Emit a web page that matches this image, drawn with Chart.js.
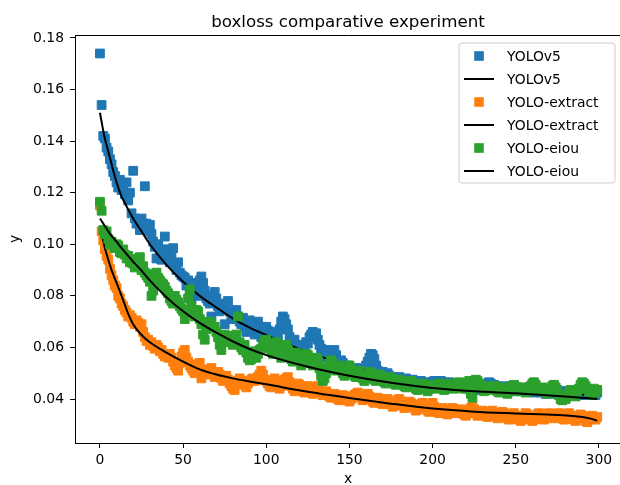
<!DOCTYPE html>
<html>
<head>
<meta charset="utf-8">
<script src="https://cdn.jsdelivr.net/npm/chart.js@4.4.1/dist/chart.umd.min.js"></script>
<style>
body{margin:0;background:#fff;}
#wrap{width:620px;height:485px;}
</style>
</head>
<body>
<div id="wrap"><canvas id="lossChart" width="620" height="485"></canvas></div>
<script>
// box loss per epoch
const seriesNames = ["YOLOv5", "YOLO-extract", "YOLO-eiou"];

const yolov5Box = [
0.1740,0.1540,0.1420,0.1410,0.1375,0.1360,0.1330,0.1310,0.1280,0.1265,
0.1240,0.1220,0.1250,0.1210,0.1225,0.1195,0.1240,0.1170,0.1200,0.1120,
0.1285,0.1100,0.1080,0.1090,0.1055,0.1100,0.1080,0.1225,0.1080,0.1050,
0.1075,0.1040,0.1010,0.0990,0.0945,0.1000,0.0970,0.0940,0.0980,0.1030,
0.0980,0.0955,0.0930,0.0960,0.0985,0.0920,0.0900,0.0930,0.0890,0.0880,
0.0875,0.0870,0.0840,0.0860,0.0820,0.0785,0.0830,0.0850,0.0815,0.0800,
0.0860,0.0875,0.0850,0.0820,0.0790,0.0780,0.0770,0.0720,0.0800,0.0815,
0.0790,0.0760,0.0740,0.0770,0.0750,0.0690,0.0760,0.0780,0.0740,0.0725,
0.0710,0.0730,0.0745,0.0720,0.0700,0.0690,0.0715,0.0680,0.0660,0.0700,
0.0705,0.0690,0.0670,0.0650,0.0665,0.0700,0.0680,0.0640,0.0660,0.0650,
0.0680,0.0665,0.0655,0.0640,0.0660,0.0650,0.0630,0.0645,0.0670,0.0700,
0.0720,0.0710,0.0690,0.0670,0.0640,0.0620,0.0610,0.0630,0.0600,0.0590,
0.0610,0.0595,0.0580,0.0600,0.0620,0.0615,0.0640,0.0650,0.0660,0.0640,
0.0655,0.0630,0.0610,0.0595,0.0580,0.0560,0.0590,0.0570,0.0550,0.0560,
0.0575,0.0590,0.0570,0.0545,0.0535,0.0550,0.0540,0.0520,0.0510,0.0530,
0.0525,0.0515,0.0500,0.0520,0.0510,0.0505,0.0495,0.0510,0.0520,0.0500,
0.0530,0.0545,0.0560,0.0575,0.0570,0.0555,0.0530,0.0510,0.0500,0.0490,
0.0505,0.0495,0.0485,0.0500,0.0490,0.0480,0.0485,0.0475,0.0480,0.0470,
0.0485,0.0475,0.0465,0.0470,0.0480,0.0465,0.0460,0.0470,0.0475,0.0460,
0.0465,0.0455,0.0460,0.0470,0.0455,0.0460,0.0450,0.0465,0.0460,0.0450,
0.0465,0.0470,0.0460,0.0455,0.0465,0.0470,0.0460,0.0455,0.0450,0.0460,
0.0465,0.0455,0.0450,0.0460,0.0455,0.0445,0.0450,0.0460,0.0455,0.0445,
0.0450,0.0440,0.0450,0.0455,0.0445,0.0440,0.0450,0.0445,0.0435,0.0440,
0.0450,0.0455,0.0445,0.0460,0.0465,0.0460,0.0450,0.0455,0.0445,0.0440,
0.0450,0.0445,0.0440,0.0435,0.0445,0.0440,0.0450,0.0440,0.0435,0.0430,
0.0440,0.0445,0.0435,0.0430,0.0440,0.0435,0.0430,0.0440,0.0445,0.0435,
0.0430,0.0425,0.0435,0.0440,0.0430,0.0425,0.0435,0.0430,0.0420,0.0425,
0.0435,0.0430,0.0425,0.0420,0.0430,0.0435,0.0425,0.0420,0.0430,0.0425,
0.0420,0.0430,0.0425,0.0415,0.0420,0.0430,0.0425,0.0420,0.0415,0.0425,
0.0420,0.0415,0.0425,0.0430,0.0420,0.0415,0.0425,0.0420,0.0415,0.0425
];

const extractBox = [
0.1150,0.1050,0.1015,0.0980,0.0955,0.0940,0.0905,0.0880,0.0860,0.0840,
0.0830,0.0800,0.0790,0.0770,0.0760,0.0745,0.0735,0.0720,0.0725,0.0715,
0.0700,0.0690,0.0705,0.0695,0.0680,0.0690,0.0660,0.0640,0.0625,0.0630,
0.0610,0.0620,0.0605,0.0595,0.0610,0.0600,0.0585,0.0590,0.0575,0.0565,
0.0570,0.0560,0.0575,0.0560,0.0545,0.0530,0.0520,0.0510,0.0540,0.0565,
0.0580,0.0590,0.0560,0.0545,0.0530,0.0520,0.0510,0.0500,0.0520,0.0535,
0.0540,0.0480,0.0500,0.0515,0.0505,0.0495,0.0510,0.0520,0.0500,0.0485,
0.0490,0.0505,0.0495,0.0480,0.0470,0.0485,0.0490,0.0475,0.0460,0.0450,
0.0440,0.0435,0.0455,0.0470,0.0480,0.0465,0.0470,0.0455,0.0445,0.0460,
0.0470,0.0475,0.0480,0.0470,0.0475,0.0485,0.0495,0.0510,0.0495,0.0475,
0.0470,0.0460,0.0450,0.0445,0.0465,0.0480,0.0470,0.0455,0.0440,0.0450,
0.0465,0.0475,0.0480,0.0485,0.0465,0.0450,0.0440,0.0430,0.0445,0.0460,
0.0455,0.0440,0.0430,0.0425,0.0440,0.0450,0.0445,0.0430,0.0420,0.0435,
0.0445,0.0450,0.0435,0.0425,0.0415,0.0420,0.0430,0.0420,0.0410,0.0405,
0.0415,0.0420,0.0410,0.0400,0.0395,0.0405,0.0415,0.0410,0.0400,0.0395,
0.0390,0.0400,0.0410,0.0415,0.0420,0.0425,0.0415,0.0405,0.0395,0.0400,
0.0410,0.0420,0.0410,0.0400,0.0390,0.0385,0.0395,0.0405,0.0400,0.0390,
0.0380,0.0385,0.0395,0.0400,0.0390,0.0380,0.0370,0.0375,0.0385,0.0395,
0.0400,0.0390,0.0375,0.0365,0.0370,0.0380,0.0390,0.0385,0.0375,0.0365,
0.0355,0.0360,0.0370,0.0380,0.0385,0.0375,0.0365,0.0355,0.0350,0.0360,
0.0385,0.0370,0.0360,0.0350,0.0345,0.0355,0.0365,0.0360,0.0350,0.0340,
0.0345,0.0355,0.0365,0.0360,0.0350,0.0345,0.0355,0.0360,0.0350,0.0340,
0.0335,0.0345,0.0355,0.0365,0.0370,0.0360,0.0345,0.0335,0.0340,0.0350,
0.0355,0.0345,0.0335,0.0330,0.0340,0.0350,0.0355,0.0345,0.0335,0.0325,
0.0330,0.0340,0.0350,0.0345,0.0335,0.0325,0.0320,0.0330,0.0340,0.0345,
0.0335,0.0325,0.0320,0.0315,0.0325,0.0335,0.0345,0.0340,0.0330,0.0320,
0.0315,0.0320,0.0330,0.0340,0.0345,0.0335,0.0325,0.0320,0.0330,0.0340,
0.0345,0.0340,0.0330,0.0325,0.0330,0.0340,0.0345,0.0335,0.0325,0.0320,
0.0330,0.0340,0.0345,0.0335,0.0325,0.0320,0.0315,0.0325,0.0335,0.0340,
0.0335,0.0325,0.0315,0.0310,0.0320,0.0330,0.0335,0.0325,0.0320,0.0330
];

const eiouBox = [
0.1165,0.1130,0.1055,0.1040,0.1050,0.1020,0.1000,0.1010,0.0995,0.0985,
0.1000,0.0995,0.0970,0.0965,0.0980,0.0960,0.0945,0.0955,0.0930,0.0940,
0.0925,0.0910,0.0935,0.0945,0.0950,0.0900,0.0915,0.0890,0.0880,0.0870,
0.0855,0.0800,0.0820,0.0885,0.0890,0.0870,0.0860,0.0850,0.0845,0.0835,
0.0820,0.0810,0.0790,0.0780,0.0770,0.0800,0.0785,0.0775,0.0760,0.0750,
0.0740,0.0710,0.0745,0.0790,0.0825,0.0760,0.0735,0.0720,0.0745,0.0740,
0.0710,0.0690,0.0650,0.0630,0.0670,0.0700,0.0690,0.0695,0.0680,0.0680,
0.0660,0.0640,0.0610,0.0590,0.0620,0.0650,0.0640,0.0630,0.0645,0.0620,
0.0610,0.0630,0.0650,0.0720,0.0620,0.0600,0.0590,0.0610,0.0580,0.0560,
0.0550,0.0555,0.0570,0.0585,0.0560,0.0575,0.0590,0.0595,0.0610,0.0625,
0.0630,0.0615,0.0600,0.0590,0.0575,0.0610,0.0620,0.0605,0.0580,0.0560,
0.0575,0.0600,0.0610,0.0590,0.0570,0.0555,0.0545,0.0560,0.0580,0.0565,
0.0550,0.0530,0.0540,0.0560,0.0575,0.0570,0.0555,0.0540,0.0530,0.0545,
0.0560,0.0550,0.0520,0.0490,0.0470,0.0480,0.0500,0.0520,0.0535,0.0550,
0.0540,0.0525,0.0510,0.0520,0.0530,0.0515,0.0500,0.0490,0.0505,0.0520,
0.0530,0.0515,0.0500,0.0490,0.0485,0.0500,0.0510,0.0495,0.0480,0.0470,
0.0480,0.0495,0.0505,0.0500,0.0485,0.0475,0.0470,0.0480,0.0495,0.0490,
0.0480,0.0465,0.0460,0.0470,0.0485,0.0480,0.0470,0.0460,0.0455,0.0465,
0.0475,0.0470,0.0460,0.0450,0.0445,0.0455,0.0465,0.0470,0.0460,0.0450,
0.0440,0.0435,0.0445,0.0455,0.0460,0.0450,0.0440,0.0430,0.0440,0.0450,
0.0455,0.0445,0.0440,0.0450,0.0460,0.0455,0.0445,0.0435,0.0440,0.0450,
0.0460,0.0455,0.0445,0.0440,0.0450,0.0460,0.0465,0.0455,0.0445,0.0440,
0.0450,0.0460,0.0470,0.0420,0.0405,0.0455,0.0475,0.0470,0.0460,0.0450,
0.0440,0.0430,0.0440,0.0450,0.0445,0.0435,0.0440,0.0450,0.0445,0.0430,
0.0425,0.0435,0.0445,0.0440,0.0430,0.0420,0.0430,0.0440,0.0450,0.0455,
0.0445,0.0435,0.0430,0.0440,0.0445,0.0435,0.0425,0.0430,0.0440,0.0450,
0.0460,0.0465,0.0455,0.0440,0.0430,0.0435,0.0445,0.0440,0.0430,0.0420,
0.0430,0.0440,0.0450,0.0455,0.0445,0.0430,0.0415,0.0400,0.0395,0.0405,
0.0400,0.0410,0.0425,0.0435,0.0430,0.0420,0.0410,0.0425,0.0440,0.0455,
0.0465,0.0460,0.0450,0.0440,0.0430,0.0420,0.0415,0.0440,0.0425,0.0435
];

// fitted curves (black lines), sampled at these epochs
const fitX = [0,1,2,3,4,5,7,10,13,15,17,20,24,30,40,50,60,70,80,90,100,125,150,175,200,225,250,275,290,295,299];
const yolov5Fit = [0.1510,0.1475,0.1440,0.1408,0.1385,0.1360,0.1310,0.1240,0.1185,0.1160,0.1135,0.1100,0.1060,0.1000,0.0920,0.0855,0.0800,0.0755,0.0712,0.0677,0.0648,0.0582,0.0530,0.0490,0.0460,0.0442,0.0430,0.0422,0.0417,0.0414,0.0412];
const extractFit = [0.1070,0.1040,0.1012,0.0985,0.0962,0.0940,0.0900,0.0850,0.0800,0.0765,0.0730,0.0690,0.0655,0.0620,0.0580,0.0545,0.0515,0.0495,0.0480,0.0468,0.0457,0.0428,0.0404,0.0382,0.0363,0.0351,0.0344,0.0338,0.0330,0.0324,0.0316];
const eiouFit = [0.1100,0.1090,0.1080,0.1070,0.1060,0.1050,0.1033,0.1010,0.0985,0.0970,0.0955,0.0932,0.0905,0.0860,0.0795,0.0740,0.0695,0.0657,0.0623,0.0594,0.0570,0.0525,0.0490,0.0463,0.0443,0.0430,0.0422,0.0412,0.0405,0.0402,0.0400];

const xTicks = [0,50,100,150,200,250,300];
const yTicks = [0.04,0.06,0.08,0.10,0.12,0.14,0.16,0.18];

const colors = ["#1f77b4", "#ff7f0e", "#2ca02c"];
const FONT = "DejaVu Sans";

function pts(vals){ return vals.map((v,i) => ({x:i, y:v})); }
function fitPts(vals){ return vals.map((v,i) => ({x:fitX[i], y:v})); }

function scatterSet(label, vals, color, order){
  return {label:label, data:pts(vals), backgroundColor:color, borderColor:color,
    pointStyle:'rect', pointRadius:6.2, borderWidth:1, showLine:false, order:order};
}
function fitSet(label, vals, order){
  return {label:label, data:fitPts(vals), borderColor:'#000', backgroundColor:'#000',
    showLine:true, pointRadius:0, borderWidth:2, cubicInterpolationMode:'monotone', order:order};
}

// matplotlib style frame, title, axis labels and legend
const decor = {
  id:'decor',
  afterDatasetsDraw(chart){
    const c = chart.ctx, a = chart.chartArea;
    c.save();
    c.strokeStyle = '#000'; c.lineWidth = 1;
    c.beginPath(); c.moveTo(a.left, a.top + 0.5); c.lineTo(a.right, a.top + 0.5); c.stroke();
    c.fillStyle = '#000';
    c.textAlign = 'center'; c.textBaseline = 'alphabetic';
    c.font = '16.7px "' + FONT + '"';
    c.fillText('boxloss comparative experiment', 348, 27);
    c.font = '13.9px "' + FONT + '"';
    c.textBaseline = 'middle';
    c.fillText('x', 348, 479);
    c.translate(15, 239); c.rotate(-Math.PI/2); c.fillText('y', 0, 0);
    c.restore();

    // legend
    c.save();
    const bx = 459, by = 43, bw = 156, bh = 140, r = 3;
    c.globalAlpha = 0.8; c.fillStyle = '#fff';
    c.beginPath();
    c.moveTo(bx + r, by); c.arcTo(bx + bw, by, bx + bw, by + bh, r);
    c.arcTo(bx + bw, by + bh, bx, by + bh, r); c.arcTo(bx, by + bh, bx, by, r);
    c.arcTo(bx, by, bx + bw, by, r); c.closePath();
    c.fill();
    c.globalAlpha = 1; c.strokeStyle = '#cccccc'; c.lineWidth = 1; c.stroke();
    c.font = '13.9px "' + FONT + '"'; c.textAlign = 'left'; c.textBaseline = 'middle';
    for (let i = 0; i < 6; i++) {
      const s = Math.floor(i / 2), y = 56 + 23 * i;
      if (i % 2 === 0) {
        c.fillStyle = colors[s];
        c.fillRect(479 - 4.8, y - 4.8, 9.6, 9.6);
      } else {
        c.strokeStyle = '#000'; c.lineWidth = 2;
        c.beginPath(); c.moveTo(464, y); c.lineTo(494, y); c.stroke();
      }
      c.fillStyle = '#000';
      c.fillText(seriesNames[s], 507, y + 1);
    }
    c.restore();
  }
};

const tickFont = {family: FONT, size: 13.9};

new Chart(document.getElementById('lossChart'), {
  type:'scatter',
  data:{
    datasets:[
      scatterSet(seriesNames[0], yolov5Box, colors[0], 6),
      fitSet(seriesNames[0], yolov5Fit, 5),
      scatterSet(seriesNames[1], extractBox, colors[1], 4),
      fitSet(seriesNames[1], extractFit, 3),
      scatterSet(seriesNames[2], eiouBox, colors[2], 2),
      fitSet(seriesNames[2], eiouFit, 1)
    ]
  },
  options:{
    responsive:false,
    animation:false,
    devicePixelRatio:1,
    layout:{autoPadding:false, padding:{top:35, right:0, left:0, bottom:0}},
    plugins:{legend:{display:false}, tooltip:{enabled:false}, title:{display:false}},
    scales:{
      x:{
        type:'linear', min:-15, max:312.7,
        grid:{drawOnChartArea:false, drawTicks:true, tickLength:5, color:'#000'},
        border:{color:'#000', width:1},
        ticks:{font:tickFont, color:'#000', padding:4, maxRotation:0},
        afterBuildTicks:(s) => { s.ticks = xTicks.map(v => ({value:v})); },
        afterFit:(s) => { s.height = 42; s.paddingLeft = 0; s.paddingRight = 0; }
      },
      y:{
        type:'linear', min:0.022937, max:0.18116,
        grid:{drawOnChartArea:false, drawTicks:true, tickLength:5, color:'#000'},
        border:{color:'#000', width:1},
        ticks:{font:tickFont, color:'#000', padding:6, callback:(v) => v.toFixed(2)},
        afterBuildTicks:(s) => { s.ticks = yTicks.map(v => ({value:v})); },
        afterFit:(s) => { s.width = 75; s.paddingTop = 0; s.paddingBottom = 0; }
      }
    }
  },
  plugins:[decor]
});
</script>
</body>
</html>
